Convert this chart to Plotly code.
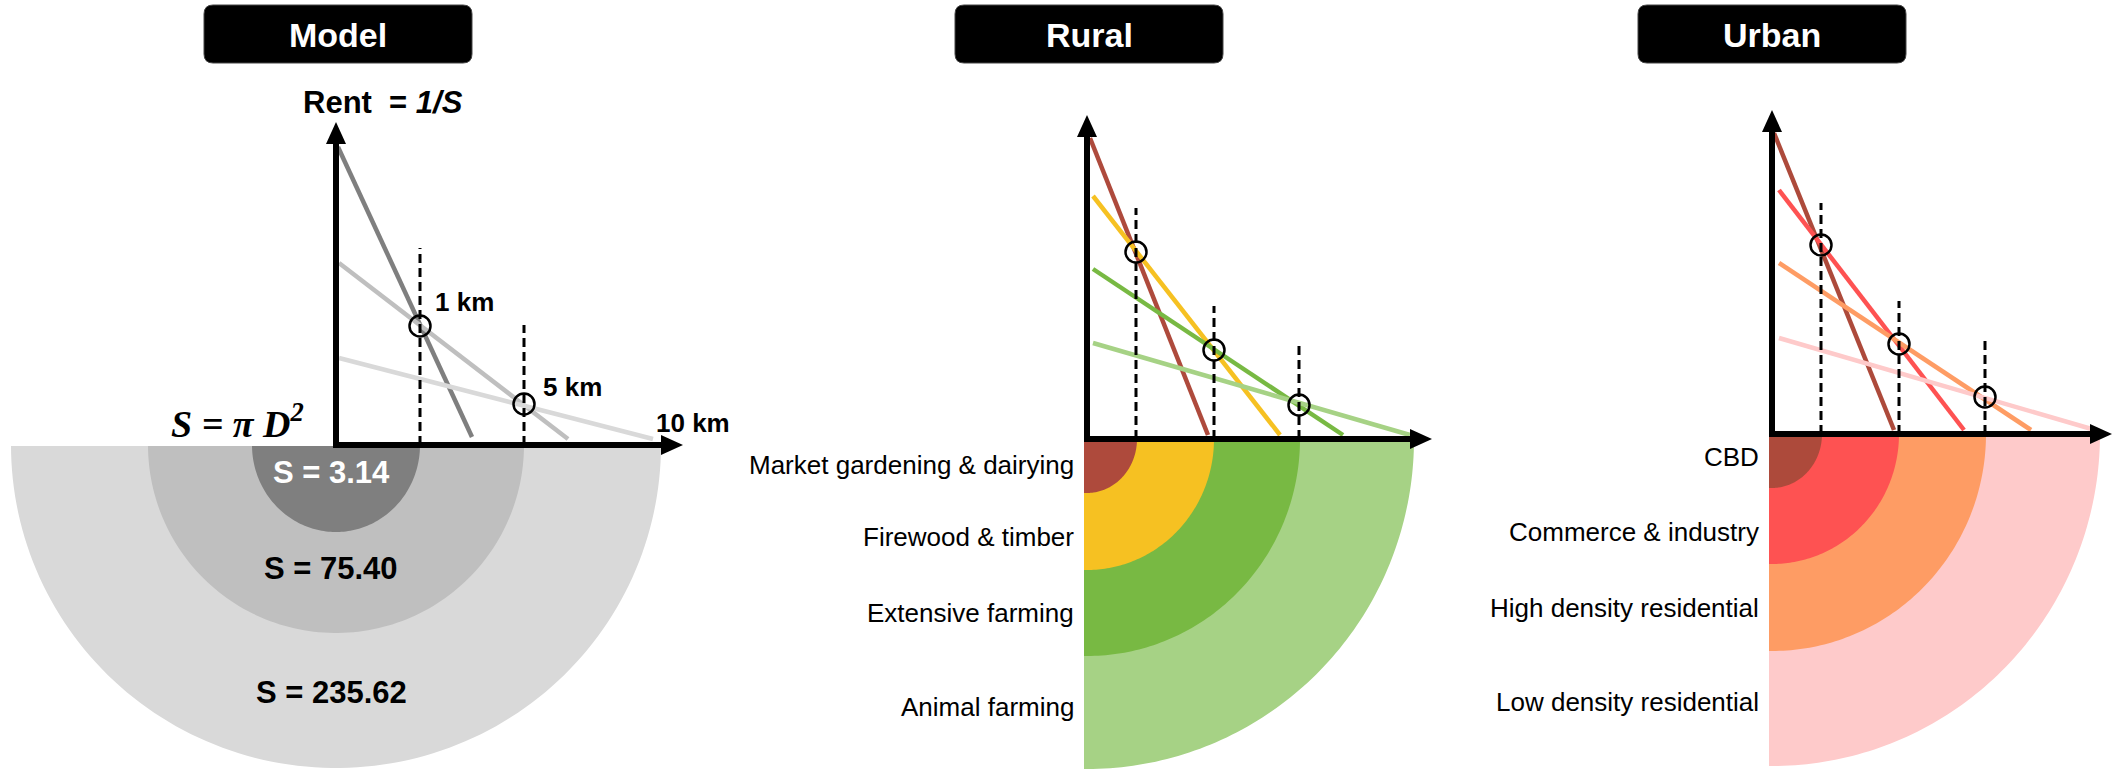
import numpy as np
import plotly.graph_objects as go

W, H = 2113, 770

# ---------------- data ----------------
titles = ["Model", "Rural", "Urban"]

# Model panel (diagram distance units)
model_km_labels = ["1 km", "5 km", "10 km"]
model_area_labels = ["S = 3.14", "S = 75.40", "S = 235.62"]
model_ring_radius = [84, 188, 325]
model_ring_depth = [87, 188, 323]
model_colors = ["#7f7f7f", "#bfbfbf", "#d9d9d9"]
model_line_x0 = [2, 3, 3]
model_line_r0 = [298, 182, 87]
model_line_x1 = [136, 232, 317]
model_line_r1 = [8, 6, 6]
model_cross_x = [84, 188]
model_cross_r = [119, 41]
model_dash_top = [197, 120]

# Rural panel
rural_zones = ["Market gardening & dairying", "Firewood & timber",
               "Extensive farming", "Animal farming"]
rural_colors = ["#ae4a3c", "#f6c122", "#78b943", "#a6d285"]
rural_radius = [50, 127, 213, 327]
rural_depth = [54, 131, 217, 330]
rural_line_x0 = [3, 6, 6, 6]
rural_line_r0 = [301, 243, 170, 96]
rural_line_x1 = [121, 193, 256, 323]
rural_line_r1 = [4, 4, 4, 4]
rural_cross_x = [49, 127, 212]
rural_cross_r = [187, 89, 34]
rural_dash_top = [231, 133, 96]

# Urban panel
urban_zones = ["CBD", "Commerce & industry", "High density residential",
               "Low density residential"]
urban_colors = ["#ad4a3b", "#fe5252", "#fe9c64", "#fecaca"]
urban_radius = [50, 127, 214, 328]
urban_depth = [54, 130, 217, 332]
urban_line_x0 = [2, 7, 7, 7]
urban_line_r0 = [301, 244, 171, 96]
urban_line_x1 = [122, 192, 259, 323]
urban_line_r1 = [4, 4, 4, 4]
urban_cross_x = [49, 127, 213]
urban_cross_r = [189, 90, 37]
urban_dash_top = [231, 133, 96]

# ---------------- layout config ----------------
panels = [
    dict(ax="", origin=(336, 445), span=(0, 745), ytip=323, xtip=347),
    dict(ax="2", origin=(1087, 439), span=(745, 1440), ytip=324, xtip=345),
    dict(ax="3", origin=(1772, 434), span=(1440, W), ytip=324, xtip=340),
]
rural_label_y = [-26, -98, -174, -268]
urban_label_y = [-23, -98, -174, -268]

SANS = "Liberation Sans Narrow, Arial Narrow, Liberation Sans, Arial, sans-serif"
SERIF = "Liberation Serif, Times New Roman, serif"

fig = go.Figure()
shapes = []
annotations = []


def refs(p):
    return "x" + p["ax"], "y" + p["ax"]


def rrect(x0, y0, x1, y1, r):
    return (f"M{x0+r},{y0} L{x1-r},{y0} Q{x1},{y0} {x1},{y0-r} "
            f"L{x1},{y1+r} Q{x1},{y1} {x1-r},{y1} L{x0+r},{y1} "
            f"Q{x0},{y1} {x0},{y1+r} L{x0},{y0-r} Q{x0},{y0} {x0+r},{y0} Z")


def zone_trace(p, rx, ry, color, x_start, full):
    xr, yr = refs(p)
    if full:
        t = np.linspace(np.pi, 2 * np.pi, 120)
    else:
        t = np.linspace(-np.pi / 2, 0, 90)
    xs = list(rx * np.cos(t))
    ys = list(ry * np.sin(t))
    if full:
        xs = [-rx] + xs + [rx]
        ys = [-1] + ys + [-1]
    else:
        xs = [x_start, x_start] + xs + [rx]
        ys = [-1, -ry] + ys + [-1]
    return go.Scatter(x=xs, y=ys, fill="toself", fillcolor=color, mode="none",
                      line=dict(width=0), hoverinfo="skip", showlegend=False,
                      xaxis=xr, yaxis=yr)


def add_panel(p, radius, depth, colors, lx0, lr0, lx1, lr1, cx, cr, dtop, full, x_start):
    xr, yr = refs(p)
    for rx, ry, c in reversed(list(zip(radius, depth, colors))):
        fig.add_trace(zone_trace(p, rx, ry, c, x_start, full))
    for a, b, c, d, col in zip(lx0, lr0, lx1, lr1, colors):
        fig.add_trace(go.Scatter(x=[a, c], y=[b, d], mode="lines",
                                 line=dict(color=col, width=4.5),
                                 hoverinfo="skip", showlegend=False,
                                 xaxis=xr, yaxis=yr))
    for x, top in zip(cx, dtop):
        fig.add_trace(go.Scatter(x=[x, x], y=[0, top], mode="lines",
                                 line=dict(color="black", width=3, dash="9px,5px"),
                                 hoverinfo="skip", showlegend=False,
                                 xaxis=xr, yaxis=yr))
    fig.add_trace(go.Scatter(x=cx, y=cr, mode="markers",
                             marker=dict(symbol="circle-open", size=21, color="black",
                                         line=dict(width=2.5, color="black")),
                             hoverinfo="skip", showlegend=False,
                             xaxis=xr, yaxis=yr))
    ytip, xtip = p["ytip"], p["xtip"]
    shapes.append(dict(type="line", xref=xr, yref=yr, x0=0, y0=-3, x1=0, y1=ytip - 18,
                       line=dict(color="black", width=6)))
    shapes.append(dict(type="line", xref=xr, yref=yr, x0=-3, y0=0, x1=xtip - 18, y1=0,
                       line=dict(color="black", width=6)))
    shapes.append(dict(type="path", xref=xr, yref=yr,
                       path=f"M-10,{ytip-22} L10,{ytip-22} L0,{ytip} Z",
                       fillcolor="black", line=dict(width=0)))
    shapes.append(dict(type="path", xref=xr, yref=yr,
                       path=f"M{xtip-22},-10 L{xtip-22},10 L{xtip},0 Z",
                       fillcolor="black", line=dict(width=0)))


add_panel(panels[0], model_ring_radius, model_ring_depth, model_colors,
          model_line_x0, model_line_r0, model_line_x1, model_line_r1,
          model_cross_x, model_cross_r, model_dash_top, True, 0)
add_panel(panels[1], rural_radius, rural_depth, rural_colors,
          rural_line_x0, rural_line_r0, rural_line_x1, rural_line_r1,
          rural_cross_x, rural_cross_r, rural_dash_top, False, -3)
add_panel(panels[2], urban_radius, urban_depth, urban_colors,
          urban_line_x0, urban_line_r0, urban_line_x1, urban_line_r1,
          urban_cross_x, urban_cross_r, urban_dash_top, False, -3)

# title boxes
for p, title in zip(panels, titles):
    xr, yr = refs(p)
    oy = p["origin"][1]
    cx = {"": 2, "2": 2, "3": 0}[p["ax"]]
    shapes.append(dict(type="path", xref=xr, yref=yr,
                       path=rrect(cx - 134, oy - 5, cx + 134, oy - 63, 9),
                       fillcolor="black", line=dict(color="#444", width=1)))
    annotations.append(dict(xref=xr, yref=yr, x=cx, y=oy - 35, text=f"<b>{title}</b>",
                            showarrow=False, xanchor="center", yanchor="middle",
                            font=dict(family=SANS, size=34, color="white")))

# model texts
annotations.append(dict(xref="x", yref="y", x=47, y=343,
                        text="<b>Rent&nbsp;&nbsp;= <i>1/S</i></b>", showarrow=False,
                        xanchor="center", yanchor="middle",
                        font=dict(family=SANS, size=31, color="black")))
km_pos = [(97, 143), (205, 58), (318, 22)]
for lab, (x, y) in zip(model_km_labels, km_pos):
    annotations.append(dict(xref="x", yref="y", x=x, y=y, text=f"<b>{lab}</b>",
                            showarrow=False, xanchor="left", yanchor="middle",
                            font=dict(family=SANS, size=26, color="black")))
annotations.append(dict(xref="x", yref="y", x=-30, y=24,
                        text="<b><i>S = π D<sup>2</sup></i></b>", showarrow=False,
                        xanchor="right", yanchor="middle",
                        font=dict(family=SERIF, size=38, color="black")))
area_y = [-27, -123, -247]
area_col = ["white", "black", "black"]
for lab, y, c in zip(model_area_labels, area_y, area_col):
    annotations.append(dict(xref="x", yref="y", x=-5, y=y, text=f"<b>{lab}</b>",
                            showarrow=False, xanchor="center", yanchor="middle",
                            font=dict(family=SANS, size=31, color=c)))

# zone labels
for p, names, ys in [(panels[1], rural_zones, rural_label_y),
                     (panels[2], urban_zones, urban_label_y)]:
    xr, yr = refs(p)
    for name, y in zip(names, ys):
        annotations.append(dict(xref=xr, yref=yr, x=-11, y=y, text=name,
                                showarrow=False, xanchor="right", yanchor="middle",
                                font=dict(family=SANS, size=26, color="black")))

layout_axes = {}
for p in panels:
    ox, oy = p["origin"]
    s0, s1 = p["span"]
    k = p["ax"]
    layout_axes["xaxis" + k] = dict(domain=[s0 / W, s1 / W], range=[s0 - ox, s1 - ox],
                                    visible=False, fixedrange=True,
                                    anchor="y" + k)
    layout_axes["yaxis" + k] = dict(domain=[0, 1], range=[oy - H, oy],
                                    visible=False, fixedrange=True,
                                    anchor="x" + k)

fig.update_layout(width=W, height=H, autosize=False,
                  margin=dict(l=0, r=0, t=0, b=0),
                  paper_bgcolor="white", plot_bgcolor="white",
                  shapes=shapes, annotations=annotations, showlegend=False,
                  **layout_axes)

fig.write_html("out.html", config={"displayModeBar": False},
               post_script="document.body.style.margin='0';")
